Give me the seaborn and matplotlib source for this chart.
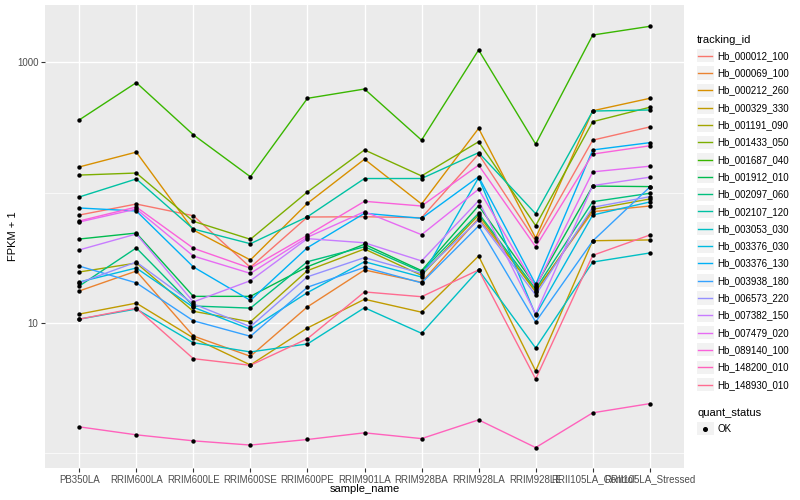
import pandas as pd
import matplotlib
matplotlib.use("Agg")
import matplotlib.pyplot as plt
import seaborn as sns
from matplotlib.lines import Line2D
from matplotlib.patches import Rectangle
from matplotlib.legend_handler import HandlerBase

# samples on the x axis
sample_names = ["PB350LA", "RRIM600LA", "RRIM600LE", "RRIM600SE", "RRIM600PE",
                "RRIM901LA", "RRIM928BA", "RRIM928LA", "RRIM928LE",
                "RRII105LA_Control", "RRII105LA_Stressed"]

# FPKM + 1 per gene, one value per sample
hb_000012_100 = [67.2, 81.6, 66.4, 26.7, 64.9, 65.2, 64.1, 197, 42.5, 252, 318]
hb_000069_100 = [17.6, 25.0, 7.95, 5.56, 13.3, 25.5, 20.5, 63.4, 17.7, 71.3, 78.8]
hb_000212_260 = [157, 204, 51.6, 30.4, 82.6, 180, 81.6, 310, 44.8, 423, 527]
hb_000329_330 = [11.7, 14.2, 7.68, 4.77, 9.16, 15.2, 12.1, 32.6, 4.29, 42.7, 43.3]
hb_001191_090 = [24.6, 28.8, 12.3, 10.2, 25.2, 36.9, 23.2, 67.2, 17.3, 74.3, 89.2]
hb_001433_050 = [136, 141, 60.2, 43.8, 101, 212, 134, 245, 55.7, 349, 450]
hb_001687_040 = [360, 695, 277, 132, 527, 621, 252, 1236, 235, 1610, 1877]
hb_001912_010 = [44.0, 48.9, 16.0, 16.0, 27.0, 40.1, 25.2, 79.2, 19.2, 112, 111]
hb_002097_060 = [19.2, 37.6, 13.5, 13.0, 29.5, 38.4, 24.7, 69.3, 18.2, 85.0, 98.6]
hb_002107_120 = [92.4, 127, 52.5, 40.5, 65.2, 128, 128, 202, 68.8, 421, 429]
hb_003053_030 = [10.7, 12.8, 7.06, 6.0, 6.91, 13.1, 8.34, 25.5, 6.43, 29.3, 34.4]
hb_003376_030 = [20.6, 26.4, 13.2, 8.95, 17.1, 29.5, 22.5, 130, 11.5, 67.2, 84.6]
hb_003376_130 = [76.1, 72.2, 26.9, 14.9, 37.8, 69.3, 63.4, 132, 19.8, 212, 241]
hb_003938_180 = [27.3, 20.3, 10.4, 7.91, 18.8, 26.7, 20.3, 55.4, 10.2, 42.5, 110]
hb_006573_220 = [20.3, 29.3, 14.0, 9.37, 22.6, 31.7, 24.0, 61.6, 16.4, 77.0, 92.9]
hb_007382_150 = [36.3, 48.1, 14.5, 21.1, 44.3, 41.2, 29.9, 86.5, 11.7, 113, 131]
hb_007479_020 = [59.4, 74.7, 32.6, 24.0, 45.4, 71.3, 47.5, 106, 18.8, 144, 159]
hb_089140_100 = [60.5, 77.4, 37.4, 26.3, 47.0, 85.6, 78.8, 162, 38.4, 197, 228]
hb_148200_010 = [1.60, 1.39, 1.25, 1.16, 1.28, 1.44, 1.30, 1.81, 1.11, 2.05, 2.41]
hb_148930_010 = [10.7, 13.0, 5.33, 4.74, 7.58, 17.3, 15.9, 25.5, 3.72, 33.0, 47.2]

tracking_ids = ["Hb_000012_100", "Hb_000069_100", "Hb_000212_260", "Hb_000329_330",
                "Hb_001191_090", "Hb_001433_050", "Hb_001687_040", "Hb_001912_010",
                "Hb_002097_060", "Hb_002107_120", "Hb_003053_030", "Hb_003376_030",
                "Hb_003376_130", "Hb_003938_180", "Hb_006573_220", "Hb_007382_150",
                "Hb_007479_020", "Hb_089140_100", "Hb_148200_010", "Hb_148930_010"]
series = [hb_000012_100, hb_000069_100, hb_000212_260, hb_000329_330, hb_001191_090,
          hb_001433_050, hb_001687_040, hb_001912_010, hb_002097_060, hb_002107_120,
          hb_003053_030, hb_003376_030, hb_003376_130, hb_003938_180, hb_006573_220,
          hb_007382_150, hb_007479_020, hb_089140_100, hb_148200_010, hb_148930_010]

# ggplot2 default hue palette for 20 groups
colors = ["#F8766D", "#EA8331", "#D89000", "#C09B00", "#A3A500", "#7CAE00", "#39B600",
          "#00BB4E", "#00BF7D", "#00C1A3", "#00BFC4", "#00BAE0", "#00B0F6", "#35A2FF",
          "#9590FF", "#C77CFF", "#E76BF3", "#FA62DB", "#FF62BC", "#FF6C91"]

rows = []
for tid, vals in zip(tracking_ids, series):
    for i, (s, v) in enumerate(zip(sample_names, vals)):
        rows.append({"tracking_id": tid, "sample_name": s, "pos": i, "fpkm": v})
df = pd.DataFrame(rows)

plt.rcParams['font.family'] = ['Liberation Sans', 'DejaVu Sans']

fig = plt.figure(figsize=(8, 5), dpi=100)
ax = fig.add_axes([45 / 800, 32 / 500, 639 / 800, 463 / 500])
ax.set_facecolor("#EBEBEB")

sns.lineplot(data=df, x="pos", y="fpkm", hue="tracking_id", hue_order=tracking_ids,
             palette=colors, linewidth=1.0, legend=False, sort=False, ax=ax, zorder=2)
sns.scatterplot(data=df, x="pos", y="fpkm", color="black", s=10, linewidth=0,
                legend=False, ax=ax, zorder=3)

ax.set_yscale("log")
ax.set_ylim(0.774, 2735)
ax.set_xlim(-0.6, len(sample_names) - 0.4)
ax.set_yticks([10, 1000])
ax.set_yticklabels(["10", "1000"])
ax.set_yticks([1, 100], minor=True)
ax.yaxis.set_minor_formatter(matplotlib.ticker.NullFormatter())
ax.set_xticks(range(len(sample_names)))
ax.set_xticklabels(sample_names)

ax.grid(True, which="major", color="white", linewidth=1.0)
ax.grid(True, which="minor", axis="y", color="white", linewidth=0.5)
ax.set_axisbelow(True)
for sp in ax.spines.values():
    sp.set_visible(False)
ax.tick_params(axis="both", which="major", length=2.7, width=0.8, color="#333333",
               labelsize=7, labelcolor="#4D4D4D", pad=2)
ax.tick_params(axis="y", which="minor", length=0)
ax.set_xlabel("sample_name", fontsize=8, color="black")
ax.set_ylabel("FPKM + 1", fontsize=8, color="black")
ax.xaxis.set_label_coords(0.5, -0.046)
ax.yaxis.set_label_coords(-0.050, 0.5)
ax.xaxis.label.set_va("center")
ax.yaxis.label.set_va("center")


class KeyHandler(HandlerBase):
    def create_artists(self, legend, orig_handle, xdescent, ydescent, width, height,
                       fontsize, trans):
        bg = Rectangle((-xdescent, -ydescent), width, height, facecolor="#F2F2F2",
                       edgecolor="none", transform=trans)
        yc = height / 2 - ydescent
        if orig_handle.get_marker() not in (None, "None", ""):
            mk = Line2D([width / 2 - xdescent], [yc], marker="o", markersize=2.6,
                        color="black", linestyle="none", transform=trans)
        else:
            mk = Line2D([-xdescent + 1, width - xdescent - 1], [yc, yc],
                        color=orig_handle.get_color(), linewidth=1.0, transform=trans)
        return [bg, mk]


legend_kw = dict(loc="upper left", frameon=False, fontsize=7, title_fontsize=8,
                 alignment="left", handler_map={Line2D: KeyHandler()},
                 handlelength=1.7, handleheight=1.7, labelspacing=0.43,
                 handletextpad=0.4, borderpad=0, borderaxespad=0)

line_handles = [Line2D([], [], color=c, marker=None) for c in colors]
leg1 = fig.legend(line_handles, tracking_ids, title="tracking_id",
                  bbox_to_anchor=(697 / 800, 1 - 35 / 500), **legend_kw)
dot = Line2D([], [], color="black", marker="o", linestyle="none")
leg2 = fig.legend([dot], ["OK"], title="quant_status",
                  bbox_to_anchor=(697 / 800, 1 - 408 / 500), **legend_kw)

fig.savefig("out.png", dpi=100, facecolor="white")
